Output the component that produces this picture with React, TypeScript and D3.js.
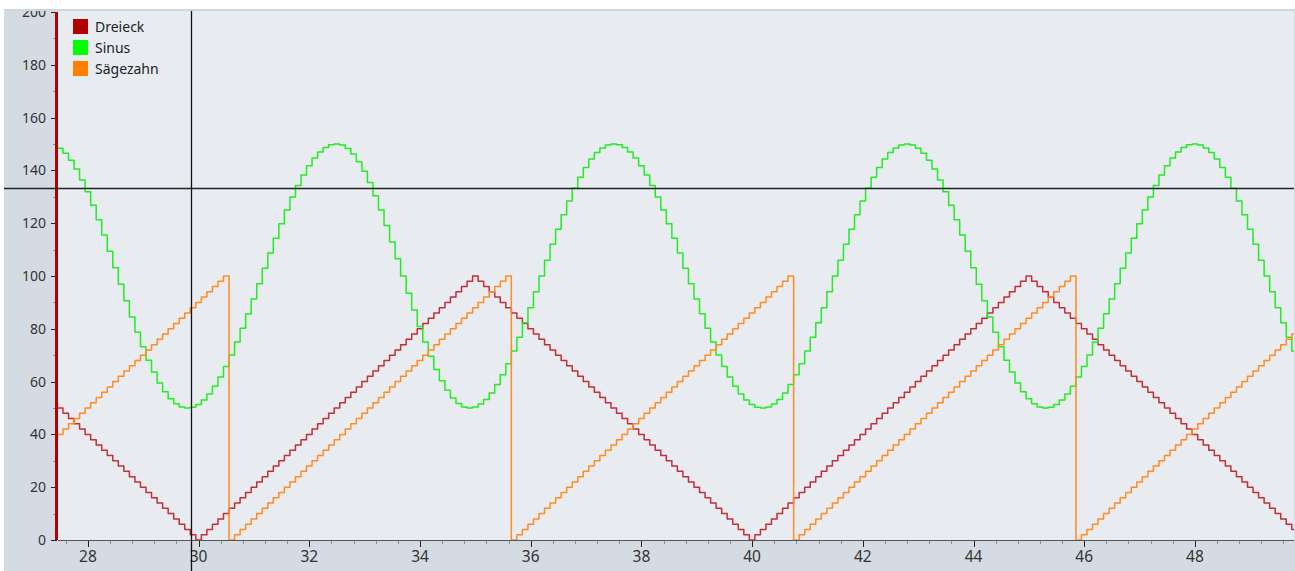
import React from 'react';
import * as d3 from 'd3';

// ---- data (one sample every 0.1 s) ----
const seriesNames = ['Dreieck', 'Sinus', 'Sägezahn'];
const sampleStart = 27.4; // time of first sample
const sampleInterval = 0.1; // time between samples

const dreieck = [
  52, 50, 48, 46, 44, 42, 40, 38, 36, 34, 32, 30, 28, 26, 24, 22, 20, 18, 16, 14, 12, 10, 8, 6, 4, 2, 0,
  2, 4, 6, 8, 10, 12, 14, 16, 18, 20, 22, 24, 26, 28, 30, 32, 34, 36, 38, 40, 42, 44, 46, 48, 50,
  52, 54, 56, 58, 60, 62, 64, 66, 68, 70, 72, 74, 76, 78, 80, 82, 84, 86, 88, 90, 92, 94, 96, 98, 100,
  98, 96, 94, 92, 90, 88, 86, 84, 82, 80, 78, 76, 74, 72, 70, 68, 66, 64, 62, 60, 58, 56, 54, 52, 50,
  48, 46, 44, 42, 40, 38, 36, 34, 32, 30, 28, 26, 24, 22, 20, 18, 16, 14, 12, 10, 8, 6, 4, 2, 0,
  2, 4, 6, 8, 10, 12, 14, 16, 18, 20, 22, 24, 26, 28, 30, 32, 34, 36, 38, 40, 42, 44, 46, 48, 50,
  52, 54, 56, 58, 60, 62, 64, 66, 68, 70, 72, 74, 76, 78, 80, 82, 84, 86, 88, 90, 92, 94, 96, 98, 100,
  98, 96, 94, 92, 90, 88, 86, 84, 82, 80, 78, 76, 74, 72, 70, 68, 66, 64, 62, 60, 58, 56, 54, 52, 50,
  48, 46, 44, 42, 40, 38, 36, 34, 32, 30, 28, 26, 24, 22, 20, 18, 16, 14, 12, 10, 8, 6, 4,
];

const sinus = [
  149.6, 148.4, 146.5, 143.8, 140.5, 136.4, 131.9, 126.8, 121.3, 115.5, 109.4, 103.1, 96.9, 90.6, 84.5, 78.7, 73.2, 68.1,
  63.6, 59.5, 56.2, 53.5, 51.6, 50.4, 50,
  50.3, 51.3, 53.0, 55.3, 58.2, 61.7, 65.7, 70.1, 75, 80.2, 85.7, 91.3, 97.1, 102.9, 108.7, 114.3, 119.8, 125, 129.9,
  134.3, 138.3, 141.8, 144.7, 147.0, 148.7, 149.7, 150,
  149.6, 148.3, 146.2, 143.3, 139.7, 135.4, 130.4, 125, 119.1, 112.9, 106.5, 100, 93.5, 87.1, 80.9, 75, 69.6, 64.6,
  60.3, 56.7, 53.8, 51.7, 50.4, 50,
  50.4, 51.5, 53.2, 55.7, 58.9, 62.6, 66.8, 71.6, 76.8, 82.3, 88.0, 94.0, 100, 106.0, 112.0, 117.7, 123.2, 128.4,
  133.2, 137.4, 141.1, 144.3, 146.8, 148.5, 149.6, 150,
  149.7, 148.7, 147.0, 144.7, 141.8, 138.3, 134.3, 129.9, 125, 119.8, 114.3, 108.7, 102.9, 97.1, 91.3, 85.7, 80.2, 75,
  70.1, 65.7, 61.7, 58.2, 55.3, 53.0, 51.3, 50.3, 50,
  50.4, 51.5, 53.2, 55.7, 58.9, 62.6, 66.8, 71.6, 76.8, 82.3, 88.0, 94.0, 100, 106.0, 112.0, 117.7, 123.2, 128.4,
  133.2, 137.4, 141.1, 144.3, 146.8, 148.5, 149.6, 150,
  149.6, 148.4, 146.5, 143.8, 140.5, 136.4, 131.9, 126.8, 121.3, 115.5, 109.4, 103.1, 96.9, 90.6, 84.5, 78.7, 73.2, 68.1,
  63.6, 59.5, 56.2, 53.5, 51.6, 50.4, 50,
  50.3, 51.3, 53.0, 55.3, 58.2, 61.7, 65.7, 70.1, 75, 80.2, 85.7, 91.3, 97.1, 102.9, 108.7, 114.3, 119.8, 125, 129.9,
  134.3, 138.3, 141.8, 144.7, 147.0, 148.7, 149.7, 150,
  149.6, 148.5, 146.8, 144.3, 141.1, 137.4, 133.2, 128.4, 123.2, 117.7, 112.0, 106.0, 100, 94.0, 88.0, 82.3, 76.8, 71.6,
];

const saegezahn = [
  38, 40, 42, 44, 46, 48, 50, 52, 54, 56, 58, 60, 62, 64, 66, 68, 70, 72, 74, 76, 78, 80, 82, 84, 86, 88, 90, 92, 94, 96, 98, 100,
  0, 2, 4, 6, 8, 10, 12, 14, 16, 18, 20, 22, 24, 26, 28, 30, 32, 34, 36, 38, 40, 42, 44, 46, 48, 50,
  52, 54, 56, 58, 60, 62, 64, 66, 68, 70, 72, 74, 76, 78, 80, 82, 84, 86, 88, 90, 92, 94, 96, 98, 100,
  0, 2, 4, 6, 8, 10, 12, 14, 16, 18, 20, 22, 24, 26, 28, 30, 32, 34, 36, 38, 40, 42, 44, 46, 48, 50,
  52, 54, 56, 58, 60, 62, 64, 66, 68, 70, 72, 74, 76, 78, 80, 82, 84, 86, 88, 90, 92, 94, 96, 98, 100,
  0, 2, 4, 6, 8, 10, 12, 14, 16, 18, 20, 22, 24, 26, 28, 30, 32, 34, 36, 38, 40, 42, 44, 46, 48, 50,
  52, 54, 56, 58, 60, 62, 64, 66, 68, 70, 72, 74, 76, 78, 80, 82, 84, 86, 88, 90, 92, 94, 96, 98, 100,
  0, 2, 4, 6, 8, 10, 12, 14, 16, 18, 20, 22, 24, 26, 28, 30, 32, 34, 36, 38, 40, 42, 44, 46, 48, 50,
  52, 54, 56, 58, 60, 62, 64, 66, 68, 70, 72, 74, 76, 78,
];

const xTicks = [28, 30, 32, 34, 36, 38, 40, 42, 44, 46, 48];
const yTicks = [0, 20, 40, 60, 80, 100, 120, 140, 160, 180, 200];
const xDomain = [27.46, 49.79];
const yDomain = [0, 200];
const cursorT = 29.86;
const cursorV = 133.3;

// ---- styles ----
const lineColors = ['#c03038', '#22ec22', '#ff8c20'];
const legendColors = ['#b00000', '#00ff00', '#ff8000'];
const FONT = '"Noto Sans", "DejaVu Sans", sans-serif';

export default function App() {
  const W = 1295;
  const H = 571;
  const L = 58, R = 1294, T = 9, B = 540;
  const x = d3.scaleLinear().domain(xDomain).range([L, R]);
  const y = d3.scaleLinear().domain(yDomain).range([B, 12]);

  const allSeries = [dreieck, sinus, saegezahn];
  const line = d3
    .line<number>()
    .x((_, i) => x(sampleStart + i * sampleInterval))
    .y((v) => y(v))
    .curve(d3.curveStep);

  const xMinor = d3
    .range(26.8, 50, 0.4)
    .filter((t) => t > xDomain[0] && t < xDomain[1] && Math.abs(t / 2 - Math.round(t / 2)) > 0.01);
  const yMinor = d3.range(10, 200, 20);

  return (
    <svg
      width={W}
      height={H}
      style={{ position: 'absolute', left: 0, top: 0, display: 'block' }}
      fontFamily={FONT}
    >
      <defs>
        <clipPath id="plotClip">
          <rect x={L} y={T} width={R - L} height={B - T} />
        </clipPath>
      </defs>
      <rect x={0} y={0} width={W} height={H} fill="#ffffff" />
      <rect x={4} y={T} width={W - 4} height={H - T} fill="#d4dbe3" />
      <rect x={L} y={T} width={R - L} height={B - T} fill="#e8ebf0" />

      {/* y axis */}
      <line x1={57.5} x2={57.5} y1={12} y2={B} stroke="#555" />
      {yMinor.map((v) => (
        <line key={'ym' + v} x1={53} x2={57} y1={Math.round(y(v)) + 0.5} y2={Math.round(y(v)) + 0.5} stroke="#8a8f96" />
      ))}
      {yTicks.map((v) => (
        <g key={'y' + v}>
          <line x1={51} x2={57} y1={Math.round(y(v)) + 0.5} y2={Math.round(y(v)) + 0.5} stroke="#222" />
          <text x={46} y={y(v)} dy="0.36em" textAnchor="end" fontSize={14} fill="#333">
            {v}
          </text>
        </g>
      ))}

      {/* x axis */}
      <line x1={L} x2={R} y1={B + 0.5} y2={B + 0.5} stroke="#555" />
      {xMinor.map((t) => (
        <line key={'xm' + t} x1={Math.round(x(t)) + 0.5} x2={Math.round(x(t)) + 0.5} y1={B + 1} y2={B + 4} stroke="#8a8f96" />
      ))}
      {xTicks.map((t) => (
        <g key={'x' + t}>
          <line x1={Math.round(x(t)) + 0.5} x2={Math.round(x(t)) + 0.5} y1={B + 1} y2={B + 7} stroke="#222" />
          <text x={x(t)} y={562} textAnchor="middle" fontSize={15.5} fill="#333">
            {t}
          </text>
        </g>
      ))}

      {/* series */}
      <g clipPath="url(#plotClip)">
        {allSeries.map((s, k) => (
          <path key={k} d={line(s) || ''} fill="none" stroke={lineColors[k]} strokeWidth={1.5} strokeLinejoin="round" />
        ))}
      </g>

      {/* marker bar at left */}
      <rect x={55} y={12} width={3} height={B - 12} fill="#b40000" />

      {/* legend */}
      {seriesNames.map((n, k) => (
        <g key={n}>
          <rect x={73} y={19 + k * 21} width={15} height={15} fill={legendColors[k]} />
          <text x={95} y={32 + k * 21} fontSize={14} fill="#222">
            {n}
          </text>
        </g>
      ))}

      {/* cursor */}
      <line x1={4} x2={R} y1={Math.round(y(cursorV)) + 0.5} y2={Math.round(y(cursorV)) + 0.5} stroke="#222" strokeWidth={1.3} />
      <line x1={Math.round(x(cursorT)) + 0.5} x2={Math.round(x(cursorT)) + 0.5} y1={T} y2={H} stroke="#111" strokeWidth={1.3} />

      {/* top edge */}
      <rect x={0} y={0} width={W} height={T} fill="#ffffff" />
      <rect x={4} y={T} width={W - 5} height={2} fill="#cfd6de" />
    </svg>
  );
}
